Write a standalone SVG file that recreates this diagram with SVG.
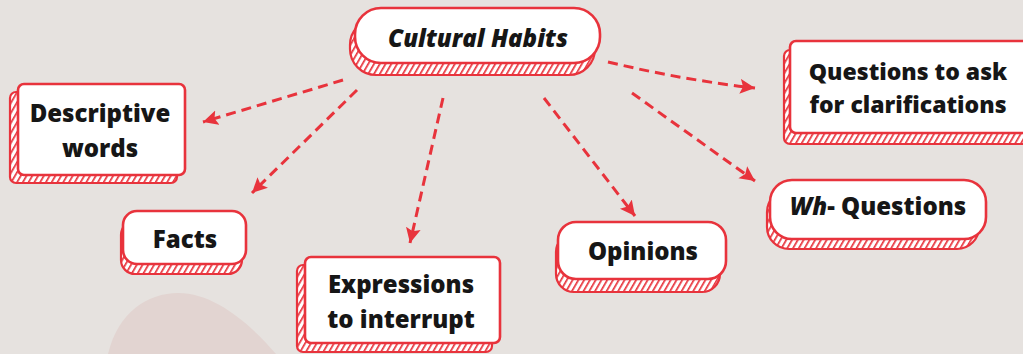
<svg xmlns="http://www.w3.org/2000/svg" width="1023" height="354" viewBox="0 0 1023 354">
<defs>
  <pattern id="hatch" patternUnits="userSpaceOnUse" width="5" height="5" patternTransform="rotate(30)">
    <rect width="5" height="5" fill="#ffffff"/>
    <rect x="0" y="0" width="1.7" height="5" fill="#e8333c"/>
  </pattern>
  <marker id="arr" markerUnits="userSpaceOnUse" markerWidth="18" markerHeight="16" refX="15" refY="7.5" orient="auto">
    <path d="M0,0 L15,7.5 L0,15 L3,7.5 Z" fill="#e8333c"/>
  </marker>
  <style>
    .back { fill: url(#hatch); stroke: #e8333c; stroke-width: 2.2; }
    .face { fill: #ffffff; stroke: #e8333c; stroke-width: 2.6; }
    .lbl { font-family: "Open Sans", "Noto Sans", sans-serif; font-weight: 800; font-size: 24px; fill: #161616; text-anchor: middle; }
    .it { font-style: italic; }
    .conn { fill: none; stroke: #e8333c; stroke-width: 3; stroke-dasharray: 10 6; marker-end: url(#arr); }
  </style>
</defs>
<rect width="1023" height="354" fill="#e6e2df"/>
<path d="M108,354 C118,312 148,293 178,293 C215,293 250,324 276,354 Z" fill="#e2d4d1"/>

<g id="connectors">
  <path class="conn" d="M343,80 L203,122"/>
  <path class="conn" d="M357,90 L252,193"/>
  <path class="conn" d="M443,98 L410,243"/>
  <path class="conn" d="M544,98 L635,216"/>
  <path class="conn" d="M608,62 Q683,80 755,88"/>
  <path class="conn" d="M632,93 L755,181"/>
</g>

<g id="cultural-habits">
  <rect class="back" x="350" y="19" width="245" height="56" rx="26"/>
  <rect class="face" x="355" y="8" width="245" height="55" rx="26"/>
  <text class="lbl it" x="478" y="47">Cultural Habits</text>
</g>

<g id="descriptive-words">
  <rect class="back" x="10" y="92" width="167" height="91" rx="6"/>
  <rect class="face" x="18" y="84" width="167" height="91" rx="6"/>
  <text class="lbl" x="100" y="122">Descriptive</text>
  <text class="lbl" x="100" y="157">words</text>
</g>

<g id="facts">
  <rect class="back" x="121" y="221" width="121" height="53" rx="14"/>
  <rect class="face" x="123" y="211" width="123" height="53" rx="14"/>
  <text class="lbl" x="185" y="248">Facts</text>
</g>

<g id="expressions">
  <rect class="back" x="297" y="265" width="195" height="87" rx="6"/>
  <rect class="face" x="305" y="257" width="195" height="86" rx="6"/>
  <text class="lbl" x="401" y="293">Expressions</text>
  <text class="lbl" x="401" y="328">to interrupt</text>
</g>

<g id="opinions">
  <rect class="back" x="556" y="234" width="164" height="58" rx="18"/>
  <rect class="face" x="558" y="222" width="168" height="57" rx="18"/>
  <text class="lbl" x="643" y="260">Opinions</text>
</g>

<g id="questions-clarifications">
  <rect class="back" x="784" y="50" width="245" height="94" rx="6"/>
  <rect class="face" x="790" y="41" width="245" height="92" rx="6"/>
  <text class="lbl" x="908" y="80" style="font-size:23px">Questions to ask</text>
  <text class="lbl" x="908" y="113" style="font-size:23px">for clarifications</text>
</g>

<g id="wh-questions">
  <rect class="back" x="767" y="190" width="212" height="59" rx="22"/>
  <rect class="face" x="770" y="180" width="216" height="59" rx="22"/>
  <text class="lbl" x="878" y="215"><tspan class="it">Wh</tspan>- Questions</text>
</g>
</svg>
